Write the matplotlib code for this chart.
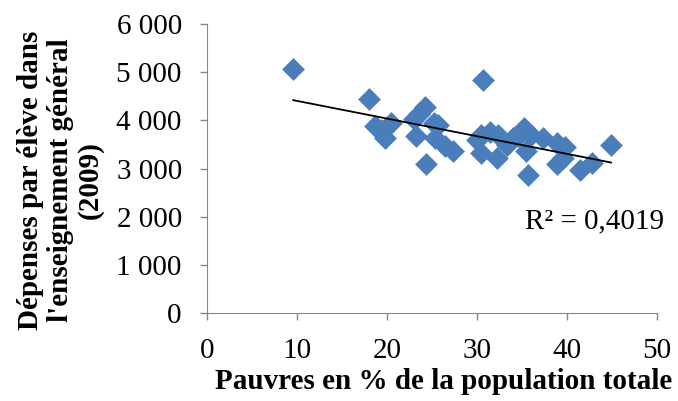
import numpy as np
import matplotlib
matplotlib.use("Agg")
from matplotlib import pyplot as plt

plt.rcParams['font.family'] = ['Liberation Serif', 'DejaVu Serif']

# poverty rate (%) and spending per pupil (2009)
pauvres = [9.6, 18.0, 18.7, 19.8, 20.5, 19.3, 23.2, 24.2, 23.6, 23.0, 25.2, 25.7,
           24.4, 25.4, 26.5, 27.3, 30.7, 30.0, 30.5, 30.4, 31.5, 32.3, 32.2,
           33.3, 34.0, 34.6, 35.2, 35.5, 36.0, 35.7, 37.3, 38.9, 39.8, 38.9,
           39.6, 41.4, 42.8, 44.9]
depenses = [5076, 4450, 3894, 3637, 3950, 3811, 3672, 4277, 4124, 4020, 3950, 3915,
            3095, 3637, 3463, 3359, 4833, 3602, 3693, 3324, 3762, 3707, 3220,
            3498, 3637, 3672, 3846, 3359, 3707, 2858, 3637, 3533, 3442, 3102,
            3220, 2976, 3115, 3498]
r2_label = "R² = 0,4019"
yticks = [0, 1000, 2000, 3000, 4000, 5000, 6000]
ytick_labels = ["0", "1 000", "2 000", "3 000", "4 000", "5 000", "6 000"]
xticks = [0, 10, 20, 30, 40, 50]

fig = plt.figure(figsize=(6.78, 4.01), dpi=100)
ax = fig.add_axes([0.305, 0.219, 0.664, 0.721])

ax.scatter(pauvres, depenses, marker='D', s=135, color='#4a7ebb', linewidths=0, zorder=2)

# linear trend line
slope, intercept = np.polyfit(pauvres, depenses, 1)
xs = np.array([min(pauvres), max(pauvres)])
ax.plot(xs, slope * xs + intercept, color='black', lw=1.3, zorder=3)

ax.text(35.3, 1900, r2_label, fontsize=21, va='center')

ax.set_xlim(0, 50)
ax.set_ylim(0, 6000)
ax.set_xticks(xticks)
ax.set_yticks(yticks)
ax.set_yticklabels(ytick_labels)
ax.tick_params(labelsize=21, color='#878787', length=5, width=1, pad=13)
for s in ['top', 'right']:
    ax.spines[s].set_visible(False)
for s in ['left', 'bottom']:
    ax.spines[s].set_color('#878787')

ax.set_xlabel("Pauvres en % de la population totale", fontsize=21, fontweight='bold')
ax.xaxis.set_label_coords(0.527, -0.19)
ax.set_ylabel("Dépenses par élève dans\nl'enseignement général\n(2009)",
              fontsize=21, fontweight='bold', linespacing=1.12)
ax.yaxis.set_label_coords(-0.229, 0.46)

fig.savefig("out.png", dpi=100)
